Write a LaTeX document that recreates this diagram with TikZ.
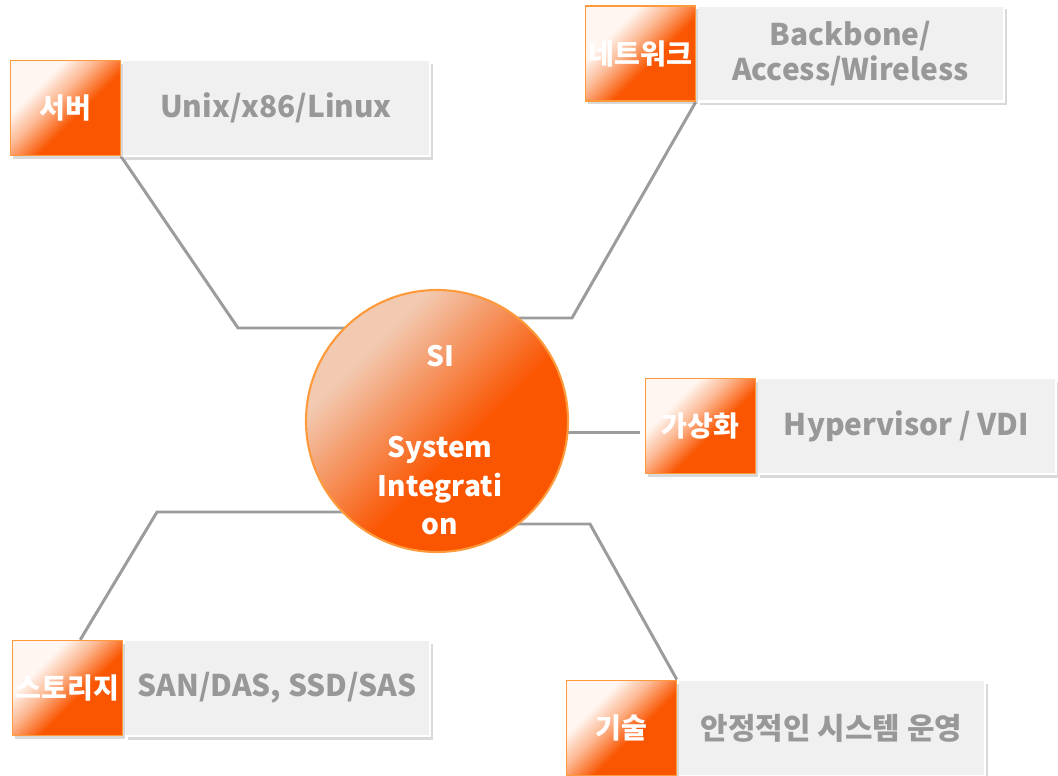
\documentclass[tikz,border=0pt]{standalone}
\usepackage{fontspec}
\setmainfont{Noto Sans CJK KR}
\usetikzlibrary{positioning,shadows,backgrounds}
\definecolor{orF}{HTML}{FA5500}
\definecolor{orE}{HTML}{FF9A3C}
\definecolor{orW}{HTML}{FFF6F2}
\definecolor{orM}{HTML}{FCB892}
\definecolor{orP}{HTML}{F2CAB2}
\definecolor{gyF}{HTML}{F0F0F0}
\definecolor{gyT}{HTML}{989898}
\definecolor{gyL}{HTML}{9C9C9C}
\pgfdeclarehorizontalshading{glow}{100bp}{color(0bp)=(orW); color(33bp)=(orW); color(44bp)=(orM); color(57bp)=(orF); color(100bp)=(orF)}
\pgfdeclarehorizontalshading{ballglow}{100bp}{color(0bp)=(orP); color(31bp)=(orP); color(57bp)=(orF); color(100bp)=(orF)}
\tikzset{
  tag/.style={draw=orE, line width=0.4pt, shading=glow, shading angle=-45,
    minimum width=1.10cm, minimum height=0.95cm, inner sep=0pt, text=white,
    font=\fontsize{8}{8}\selectfont\bfseries,
    drop shadow={shadow xshift=0.03cm, shadow yshift=-0.03cm, opacity=0.3}},
  desc/.style={draw=white, line width=0.6pt, fill=gyF, minimum height=0.96cm,
    inner sep=0pt, text=gyT, align=center,
    font=\fontsize{8.5}{10}\selectfont\bfseries,
    drop shadow={shadow xshift=0.035cm, shadow yshift=-0.035cm, opacity=0.3}},
  hub/.style={circle, draw=orE, line width=0.6pt, shading=ballglow, shading angle=-45,
    minimum size=2.62cm, inner sep=0pt},
  link/.style={draw=gyL, line width=0.85pt}
}

\begin{document}
\begin{tikzpicture}
\useasboundingbox (0,0) rectangle (10.58,-7.76);

% centre
\node[hub] (si) at (4.37,-4.21) {};
\node[text=white, align=center, font=\fontsize{8}{11}\selectfont\bfseries] (siT) at (4.40,-4.40) {SI\\[15pt]System\\Integrati\\on};

% items
\node[desc, minimum width=3.08cm] (srvD) at (2.76,-1.08) {Unix/x86/Linux};
\node[tag, left=0pt of srvD] (srv) {서버};

\node[desc, minimum width=3.07cm] (netD) at (8.505,-0.535) {Backbone/\\Access/Wireless};
\node[tag, left=0pt of netD] (net) {네트워크};

\node[desc, minimum width=2.99cm] (virD) at (9.065,-4.26) {Hypervisor / VDI};
\node[tag, left=0pt of virD] (vir) {가상화};

\node[desc, minimum width=3.06cm] (stoD) at (2.77,-6.88) {SAN/DAS, SSD/SAS};
\node[tag, left=0pt of stoD] (sto) {스토리지};

\node[desc, minimum width=3.07cm] (tecD) at (8.315,-7.28) {안정적인 시스템 운영};
\node[tag, left=0pt of tecD] (tec) {기술};

% connectors
\coordinate (k1) at (2.38,-3.28);
\coordinate (k2) at (5.72,-3.18);
\coordinate (k3) at (6.40,-4.32);
\coordinate (k4) at (1.57,-5.12);
\coordinate (k5) at (5.90,-5.24);
\begin{scope}[on background layer]
\draw[link] (srv.south east) -- (k1) -- (k1 -| si);
\draw[link] (net.south east) -- (k2) -- (k2 -| si);
\draw[link] (k3 -| si) -- (k3);
\draw[link] ([xshift=1.3mm]sto.north) -- (k4) -- (k4 -| si);
\draw[link] (k5 -| si) -- (k5) -- (tec.north east);
\end{scope}
\end{tikzpicture}
\end{document}
